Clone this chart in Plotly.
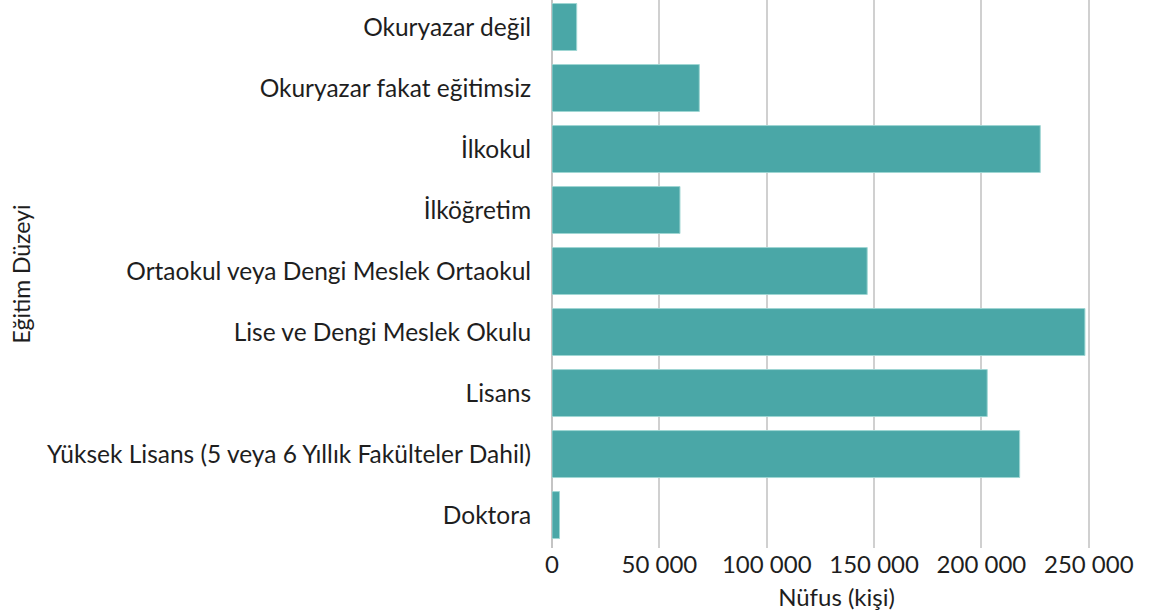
import plotly.graph_objects as go

levels = ['Okuryazar değil', 'Okuryazar fakat eğitimsiz', 'İlkokul', 'İlköğretim',
          'Ortaokul veya Dengi Meslek Ortaokul', 'Lise ve Dengi Meslek Okulu', 'Lisans',
          'Yüksek Lisans (5 veya 6 Yıllık Fakülteler Dahil)', 'Doktora']
population = [11500, 68600, 227400, 59600, 146800, 248200, 202700, 217800, 3500]
x_ticks = [0, 50000, 100000, 150000, 200000, 250000]

fig = go.Figure(go.Bar(
    x=population, y=levels, orientation='h',
    marker=dict(color='#4AA7A7', line=dict(color='#9fd6d3', width=1)),
    width=0.77,
))

fig.update_layout(
    width=1150, height=616,
    margin=dict(l=552, r=29, t=0, b=68),
    plot_bgcolor='white', paper_bgcolor='white',
    font=dict(family='Lato', size=24.5, color='#1e1e1e'),
    separators=', ',
    showlegend=False,
)
fig.update_xaxes(
    range=[0, 265000], tickvals=x_ticks, tickformat=',d', automargin=False,
    showgrid=True, gridcolor='#d0d0d0', gridwidth=1.5,
    zeroline=True, zerolinecolor='#c4c4c4', zerolinewidth=1.5,
    title=dict(text='Nüfus (kişi)', standoff=12, font=dict(size=24)),
    tickfont=dict(size=24), ticks='', ticklen=0,
)
fig.update_yaxes(
    categoryorder='array', categoryarray=levels, range=[8.54, -0.443], automargin=False,
    title=dict(text='Eğitim Düzeyi', standoff=10, font=dict(size=23)),
    ticks='outside', ticklen=15, tickcolor='rgba(0,0,0,0)',
    showgrid=False,
)

# drop the default 8px page margin so the figure sits at the window corner
fig.write_html('out.html', config={'displayModeBar': False},
               post_script="document.body.style.margin='0';")
